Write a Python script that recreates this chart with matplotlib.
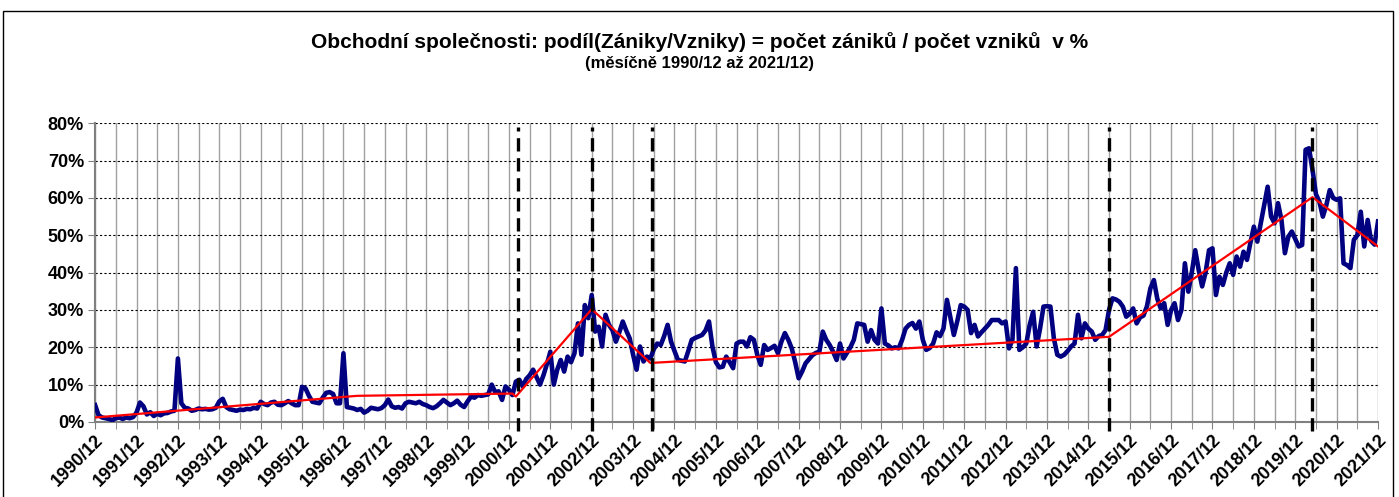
import numpy as np
import matplotlib
matplotlib.use("Agg")
import matplotlib.pyplot as plt
from matplotlib.patches import Rectangle

# podíl zániků / vzniků v %, měsíčně od 1990/12 (řádek = 12 měsíců)
podil = [
    4.5, 1.8, 1.2, 1.0, 0.8, 0.5, 1.0, 1.2, 0.8, 1.2, 1.0, 1.3,
    2.5, 5.2, 4.2, 2.0, 2.6, 1.6, 2.2, 1.8, 2.3, 2.4, 2.8, 3.0,
    17.0, 5.0, 3.8, 3.6, 3.0, 3.2, 3.6, 3.4, 3.5, 3.3, 3.4, 3.8,
    5.5, 6.2, 4.0, 3.4, 3.2, 3.0, 3.3, 3.2, 3.5, 3.4, 3.8, 3.6,
    5.4, 4.8, 4.5, 5.2, 5.4, 4.6, 4.5, 5.0, 5.6, 5.0, 4.5, 4.5,
    9.4, 9.0, 7.0, 5.4, 5.2, 5.0, 6.5, 7.8, 8.0, 7.5, 5.0, 5.0,
    18.4, 4.0, 3.8, 3.6, 3.2, 3.5, 2.5, 3.0, 3.8, 3.6, 3.4, 3.7,
    4.5, 6.0, 4.2, 3.8, 4.0, 3.6, 5.0, 5.4, 5.2, 5.0, 5.4, 4.8,
    4.5, 4.0, 3.7, 4.2, 5.0, 5.9, 5.2, 4.5, 5.0, 5.7, 4.6, 4.0,
    5.5, 6.8, 6.5, 7.2, 7.0, 7.2, 7.4, 10.0, 8.0, 8.2, 5.9, 9.5,
    8.6, 7.2, 10.8, 11.3, 9.5, 11.5, 12.5, 14.0, 12.0, 10.0, 12.5, 15.5,
    18.8, 10.0, 14.0, 16.6, 13.5, 17.5, 16.0, 18.4, 26.4, 18.0, 31.3, 27.8,
    34.0, 24.2, 25.5, 20.2, 28.7, 26.0, 24.6, 21.5, 24.0, 26.9, 24.5, 22.4,
    18.0, 14.0, 20.2, 16.2, 17.5, 17.0, 19.5, 21.0, 20.6, 23.0, 26.0, 21.5,
    19.0, 16.6, 16.4, 16.2, 19.0, 22.0, 22.5, 22.9, 23.3, 24.5, 26.9, 20.2,
    16.0, 14.6, 14.8, 17.5, 16.0, 14.4, 21.0, 21.5, 21.5, 20.2, 22.7, 22.0,
    18.0, 15.3, 20.6, 19.3, 19.8, 20.4, 18.4, 21.5, 23.8, 22.0, 19.7, 16.0,
    11.7, 13.5, 15.7, 16.8, 17.9, 18.5, 18.8, 24.2, 22.0, 20.6, 18.8, 16.6,
    21.0, 17.0, 18.5, 20.0, 22.0, 26.4, 26.2, 26.0, 21.5, 24.6, 22.0, 21.0,
    30.4, 21.0, 20.5, 19.7, 20.0, 19.7, 22.0, 25.0, 26.0, 26.5, 25.0, 26.9,
    22.0, 19.3, 19.8, 21.0, 24.0, 23.0, 25.0, 32.7, 28.0, 23.3, 27.0, 31.3,
    30.9, 30.0, 23.8, 26.0, 22.9, 24.0, 25.0, 26.0, 27.3, 27.3, 27.3, 26.4,
    26.9, 19.7, 22.0, 41.2, 19.3, 20.0, 21.0, 26.0, 29.5, 20.2, 25.0, 30.9,
    31.0, 30.9, 22.4, 18.0, 17.5, 18.0, 19.0, 20.2, 21.0, 28.7, 22.4, 26.4,
    25.0, 24.2, 22.0, 23.0, 23.3, 24.6, 30.0, 33.1, 32.8, 32.2, 30.9, 28.2,
    29.0, 30.4, 26.4, 28.0, 28.5, 31.0, 35.8, 38.0, 33.0, 30.4, 31.8, 26.0,
    30.0, 31.8, 27.3, 30.0, 42.5, 34.9, 40.0, 46.0, 40.7, 36.3, 40.0, 46.0,
    46.5, 34.0, 38.9, 36.7, 40.0, 42.5, 39.4, 44.3, 41.6, 45.6, 43.4, 48.0,
    52.3, 48.3, 53.2, 58.0, 63.0, 55.0, 53.2, 58.6, 54.1, 45.2, 49.6, 51.0,
    49.0, 47.0, 47.4, 72.9, 73.3, 67.5, 61.0, 59.0, 55.0, 58.0, 62.1, 60.0,
    59.5, 59.9, 42.5, 42.0, 41.2, 48.8, 50.0, 56.3, 47.0, 54.1, 48.5, 47.5,
    53.7,
]

# trend (červená lomená čára): index měsíce a hodnota
trend_mesic = [0, 76, 121, 122, 144, 161, 294, 353, 372]
trend_hodnota = [1.2, 7.0, 7.6, 6.8, 30.2, 15.8, 22.8, 60.2, 47.0]

# svislé přerušované čáry (zlomy)
zlomy = [122.5, 144, 161.5, 294, 353]

roky = list(range(1990, 2022))
popisky = [f"{r}/12" for r in roky]

mesice = np.arange(len(podil))

fig = plt.figure(figsize=(13.99, 4.97), dpi=100)
plt.rcParams['font.family'] = ['Liberation Sans', 'DejaVu Sans']
ax = fig.add_axes([0.068, 0.151, 0.917, 0.601])

ax.plot(mesice, podil, color='#000080', lw=3.3, solid_joinstyle='round', zorder=3)
ax.plot(trend_mesic, trend_hodnota, color='red', lw=1.6, zorder=4)

for z in zlomy:
    ax.plot([z, z], [-2.5, 79], color='black', lw=2.4, linestyle=(0, (4, 2)),
            clip_on=False, zorder=5)

ax.set_xlim(0, len(podil) - 1)
ax.set_ylim(0, 80)

ax.set_xticks(np.arange(0, len(podil), 12))
ax.set_xticks(np.arange(6, len(podil), 12), minor=True)
ax.set_xticklabels(popisky, rotation=45, ha='right', rotation_mode='anchor',
                   fontsize=13, fontweight='bold')
ax.set_yticks(range(0, 81, 10))
ax.set_yticklabels([f"{v}%" for v in range(0, 81, 10)], fontsize=13, fontweight='bold')

ax.grid(axis='x', which='both', color='#a0a0a0', lw=1.0)
ax.grid(axis='y', color='black', lw=0.8, linestyle=(0, (2, 2)))
ax.set_axisbelow(True)

for s in ['top', 'right']:
    ax.spines[s].set_visible(False)
ax.spines['left'].set_color('#808080')
ax.spines['bottom'].set_color('#808080')
ax.spines['left'].set_linewidth(1.5)
ax.spines['bottom'].set_linewidth(1.5)
ax.tick_params(axis='x', which='both', length=5, color='#808080', pad=2)
ax.tick_params(axis='y', length=5, color='#808080', pad=3)

fig.text(0.5, 0.915, "Obchodní společnosti: podíl(Zániky/Vzniky) = počet zániků / počet vzniků  v %",
         ha='center', va='center', fontsize=15, fontweight='bold')
fig.text(0.5, 0.872, "(měsíčně 1990/12 až 2021/12)",
         ha='center', va='center', fontsize=12, fontweight='bold')

fig.patches.append(Rectangle((0.002, -0.01), 0.994, 0.988, transform=fig.transFigure,
                             fill=False, ec='black', lw=1.0))

fig.savefig("out.png", dpi=100)
